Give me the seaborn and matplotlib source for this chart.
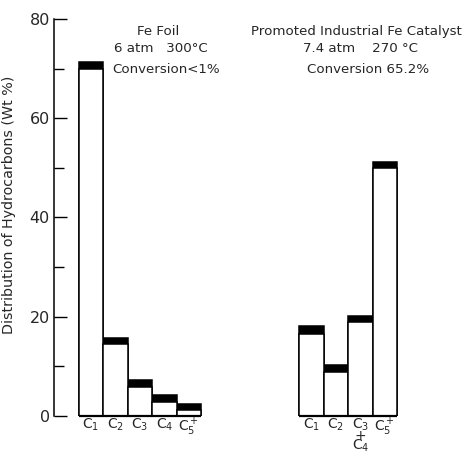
import matplotlib
matplotlib.use("Agg")
import matplotlib.pyplot as plt
import seaborn as sns
import pandas as pd

# ---- data ----
foil_labels = ["C$_1$", "C$_2$", "C$_3$", "C$_4$", "C$_5^+$"]
foil_low = [69.9, 14.4, 5.8, 2.8, 1.2]
foil_high = [71.3, 15.7, 7.3, 4.2, 2.3]

cat_labels = ["C$_1$", "C$_2$", "C$_3$\n+\nC$_4$", "C$_5^+$"]
cat_low = [16.5, 8.8, 18.8, 50.0]
cat_high = [18.0, 10.2, 20.2, 51.2]

yticks = [0, 20, 40, 60, 80]
ylabel = "Distribution of Hydrocarbons (Wt %)"
foil_title = ["Fe Foil", "6 atm   300°C", "Conversion<1%"]
cat_title = ["Promoted Industrial Fe Catalyst", "7.4 atm    270 °C", "Conversion 65.2%"]

# ---- build table ----
foil_keys = [f"foil{i}" for i in range(len(foil_labels))]
cat_keys = [f"cat{i}" for i in range(len(cat_labels))]
gap_keys = [f"gap{i}" for i in range(4)]
order = foil_keys + gap_keys + cat_keys
df = pd.DataFrame({
    "key": foil_keys + cat_keys,
    "low": foil_low + cat_low,
    "high": foil_high + cat_high,
})

sns.set_style("white")
plt.rcParams["font.family"] = ["DejaVu Sans"]

fig = plt.figure(figsize=(4.64, 4.54), dpi=100)
ax = fig.add_axes([54 / 464, 38.3 / 454, (446 - 54) / 464, (435 - 38.3) / 454])

sns.barplot(data=df, x="key", y="high", order=order, color="black",
            saturation=1, width=1.0, edgecolor="black", linewidth=1.1, ax=ax)
sns.barplot(data=df, x="key", y="low", order=order, color="white",
            saturation=1, width=1.0, edgecolor="black", linewidth=1.1, ax=ax)

ax.set_xlim(-1.5, 14.5)
ax.set_ylim(0, 80)

# baselines under each group
ax.hlines(0, -0.5, len(foil_keys) - 0.5, color="black", lw=1.6, clip_on=False)
s = len(foil_keys) + len(gap_keys)
ax.hlines(0, s - 0.5, s + len(cat_keys) - 0.5, color="black", lw=1.6, clip_on=False)

for sp in ["top", "right", "bottom"]:
    ax.spines[sp].set_visible(False)
ax.spines["left"].set_color("black")
ax.spines["left"].set_linewidth(1.1)

ax.set_yticks(yticks)
ax.set_yticks([10, 30, 50, 70], minor=True)
ax.tick_params(axis="y", which="major", direction="in", length=9, width=1,
               labelsize=11.5, pad=3, left=True, color="black")
ax.tick_params(axis="y", which="minor", direction="in", length=7, width=1,
               left=True, color="black")

xt = list(range(len(order)))
xl = foil_labels + [""] * len(gap_keys) + cat_labels
ax.set_xticks(xt)
ax.set_xticklabels(xl, fontsize=10, va="top", linespacing=0.56)
ax.tick_params(axis="x", length=0, pad=1)

ax.set_xlabel("")
ax.set_ylabel(ylabel, fontsize=10.3)
ax.yaxis.set_label_coords(-0.097, 0.531)

# annotations
fs = 9.6
ax.text(2.77, 77.4, foil_title[0], ha="center", va="center", fontsize=fs)
ax.text(2.85, 74.1, foil_title[1], ha="center", va="center", fontsize=fs)
ax.text(0.89, 69.9, foil_title[2], ha="left", va="center", fontsize=fs)
ax.text(10.85, 77.5, cat_title[0], ha="center", va="center", fontsize=fs)
ax.text(11.0, 74.1, cat_title[1], ha="center", va="center", fontsize=fs)
ax.text(11.3, 69.8, cat_title[2], ha="center", va="center", fontsize=fs)

ax.grid(False)
fig.savefig("out.png", dpi=100)
